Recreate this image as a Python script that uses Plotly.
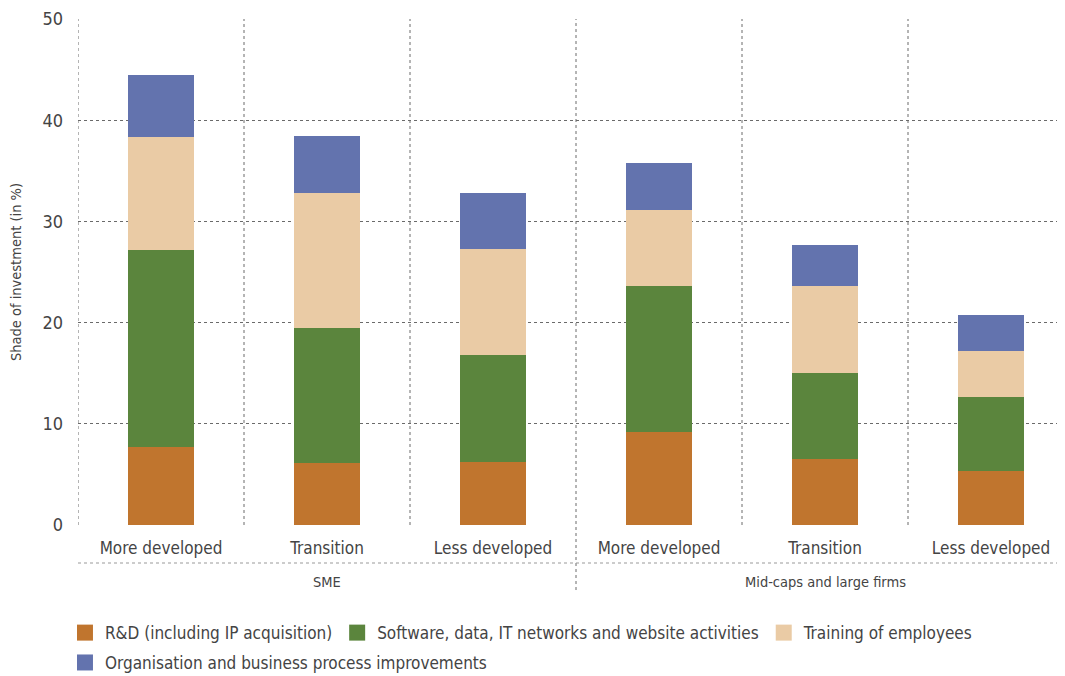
import plotly.graph_objects as go

regions = ["More developed", "Transition", "Less developed",
           "More developed", "Transition", "Less developed"]
groups = ["SME", "Mid-caps and large firms"]

series_names = [
    "R&D (including IP acquisition)",
    "Software, data, IT networks and website activities",
    "Training of employees",
    "Organisation and business process improvements",
]
rd = [7.7, 6.1, 6.2, 9.2, 6.5, 5.3]
software = [19.5, 13.4, 10.6, 14.4, 8.5, 7.3]
training = [11.1, 13.3, 10.5, 7.5, 8.6, 4.6]
organisation = [6.2, 5.6, 5.5, 4.7, 4.1, 3.6]

colors = ["#C0752E", "#5B853D", "#EACBA5", "#6373AE"]
FONT = "DejaVu Sans Condensed, Liberation Sans Narrow, sans-serif"
TXT = "#444444"
GRID = "#6a6a6a"

x = list(range(len(regions)))
fig = go.Figure()

legend_of = ["legend", "legend", "legend", "legend2"]
for name, vals, col, lg in zip(series_names, [rd, software, training, organisation], colors, legend_of):
    fig.add_trace(go.Bar(x=x, y=vals, name=name, marker=dict(color=col, line_width=0),
                         width=0.40, showlegend=False))
    # bigger square legend swatch
    fig.add_trace(go.Scatter(x=[None], y=[None], mode="markers", name=name, legend=lg,
                             marker=dict(symbol="square", size=16, color=col)))

# vertical dotted separators between categories
for i in range(len(regions)):
    b = i - 0.5
    y0 = -0.1285 if i == 3 else 0
    fig.add_shape(type="line", xref="x", yref="paper", x0=b, x1=b, y0=y0, y1=1,
                  line=dict(color=GRID, width=1, dash="dot"), layer="below")
# horizontal dotted line under the category labels
fig.add_shape(type="line", xref="paper", yref="paper", x0=0, x1=1, y0=-0.0751, y1=-0.0751,
              line=dict(color="#999999", width=1, dash="dot"))

for g, cx in zip(groups, [1, 4]):
    fig.add_annotation(x=cx, y=-0.1126, xref="x", yref="paper", text=g, showarrow=False,
                       yanchor="middle", font=dict(size=14.5, color=TXT, family=FONT))

leg_font = dict(size=17, color=TXT)
fig.update_layout(
    barmode="stack",
    width=1065, height=676,
    margin=dict(l=70, r=8, t=11, b=159, autoexpand=False),
    plot_bgcolor="white", paper_bgcolor="white",
    font=dict(family=FONT, color=TXT, size=15),
    xaxis=dict(range=[-0.5, -0.5 + 987 / 166], tickvals=x, ticktext=regions,
               showgrid=False, zeroline=False, showline=False, ticks="", automargin=False,
               ticklabelstandoff=11, tickfont=dict(size=17, color=TXT)),
    yaxis=dict(range=[0, 50], dtick=10, showgrid=True, gridcolor=GRID, griddash="dot",
               gridwidth=1, zeroline=False, showline=False, ticks="", automargin=False,
               ticklabelstandoff=14, tickfont=dict(size=18, color=TXT),
               title=dict(text="Shade of investment (in %)", standoff=22,
                          font=dict(size=14.5, color=TXT))),
    legend=dict(orientation="h", x=-0.0132, xanchor="left", y=-0.178, yanchor="top",
                traceorder="normal", font=leg_font, itemwidth=30),
    legend2=dict(orientation="h", x=-0.0132, xanchor="left", y=-0.237, yanchor="top",
                 font=leg_font, itemwidth=30),
)

fig.write_html("out.html")
